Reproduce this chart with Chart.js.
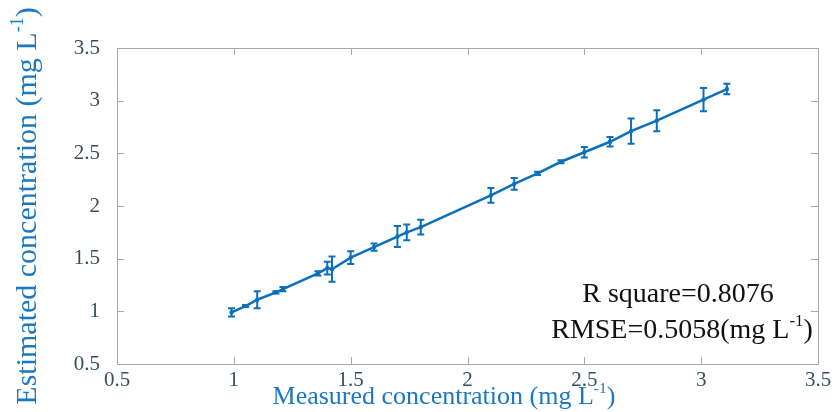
<!DOCTYPE html>
<html>
<head>
<meta charset="utf-8">
<script src="https://cdn.jsdelivr.net/npm/chart.js@4/dist/chart.umd.min.js"></script>
<style>
  html, body { margin: 0; padding: 0; background: #ffffff; }
  #wrap { width: 838px; height: 412px; }
</style>
</head>
<body>
<div id="wrap"><canvas id="c" width="838" height="412"></canvas></div>
<script>
// Measured vs. estimated concentration (mg L-1), with the spread of each estimate
const measured  = [0.99, 1.05, 1.10, 1.18, 1.21, 1.36, 1.40, 1.42, 1.50, 1.60, 1.70, 1.74, 1.80, 2.10, 2.20, 2.30, 2.40, 2.50, 2.61, 2.70, 2.81, 3.01, 3.11];
const estimated = [0.99, 1.05, 1.11, 1.18, 1.21, 1.36, 1.41, 1.40, 1.51, 1.61, 1.71, 1.75, 1.80, 2.10, 2.21, 2.31, 2.42, 2.51, 2.61, 2.71, 2.81, 3.01, 3.11];
const spread    = [0.04, 0.01, 0.08, 0.01, 0.02, 0.02, 0.06, 0.12, 0.06, 0.035, 0.10, 0.075, 0.07, 0.07, 0.055, 0.015, 0.015, 0.05, 0.045, 0.12, 0.10, 0.11, 0.05];

const xTickValues = [0.5, 1, 1.5, 2, 2.5, 3, 3.5];
const yTickValues = [0.5, 1, 1.5, 2, 2.5, 3, 3.5];
const xTickLabels = ['0.5', '1', '1.5', '2', '2.5', '3', '3.5'];
const yTickLabels = ['0.5', '1', '1.5', '2', '2.5', '3', '3.5'];

// Rich text pieces: [normal, superscript, normal]
const xTitleParts = ['Measured concentration (mg L', '-1', ')'];
const yTitleParts = ['Estimated concentration (mg L', '-1', ')'];
const statLines = [
  ['R square=0.8076'],
  ['RMSE=0.5058(mg L', '-1', ')']
];

const SERIES_BLUE = '#0a70bb';
const TITLE_BLUE = '#1c78c0';
const TICK_TEXT = '#34505f';
const BOX_GREY = '#a9a9a9';
const SERIF = '"Liberation Serif", "Times New Roman", serif';

// Draws a text run where every second piece is a superscript
function richWidth(ctx, parts, size) {
  let w = 0;
  parts.forEach((p, i) => {
    const s = i % 2 === 1 ? size * 0.6 : size;
    ctx.font = s + 'px ' + SERIF;
    w += ctx.measureText(p).width;
  });
  return w;
}
function drawRich(ctx, parts, cx, baseline, size, color) {
  const total = richWidth(ctx, parts, size);
  let x = cx - total / 2;
  ctx.fillStyle = color;
  ctx.textAlign = 'left';
  ctx.textBaseline = 'alphabetic';
  parts.forEach((p, i) => {
    const sup = i % 2 === 1;
    const s = sup ? size * 0.6 : size;
    ctx.font = s + 'px ' + SERIF;
    ctx.fillText(p, x, sup ? baseline - size * 0.42 : baseline);
    x += ctx.measureText(p).width;
  });
}

// Frame with inward ticks on all four sides
const framePlugin = {
  id: 'frame',
  beforeDatasetsDraw(chart) {
    const { ctx, chartArea: a, scales: { x, y } } = chart;
    const tl = 7;
    ctx.save();
    ctx.strokeStyle = BOX_GREY;
    ctx.lineWidth = 1;
    ctx.strokeRect(Math.round(a.left) + 0.5, Math.round(a.top) + 0.5,
                   Math.round(a.right - a.left), Math.round(a.bottom - a.top));
    ctx.beginPath();
    xTickValues.forEach(v => {
      const px = Math.round(x.getPixelForValue(v)) + 0.5;
      ctx.moveTo(px, a.bottom); ctx.lineTo(px, a.bottom - tl);
      ctx.moveTo(px, a.top); ctx.lineTo(px, a.top + tl);
    });
    yTickValues.forEach(v => {
      const py = Math.round(y.getPixelForValue(v)) + 0.5;
      ctx.moveTo(a.left, py); ctx.lineTo(a.left + tl, py);
      ctx.moveTo(a.right, py); ctx.lineTo(a.right - tl, py);
    });
    ctx.stroke();
    ctx.restore();
  }
};

// Vertical spread bars with caps at each point
const errorBarPlugin = {
  id: 'errorBars',
  afterDatasetsDraw(chart) {
    const { ctx, scales: { x, y } } = chart;
    const cap = 3.5;
    ctx.save();
    ctx.strokeStyle = SERIES_BLUE;
    ctx.lineWidth = 2;
    ctx.beginPath();
    measured.forEach((m, i) => {
      const px = x.getPixelForValue(m);
      const hi = y.getPixelForValue(estimated[i] + spread[i]);
      const lo = y.getPixelForValue(estimated[i] - spread[i]);
      ctx.moveTo(px, hi); ctx.lineTo(px, lo);
      ctx.moveTo(px - cap, hi); ctx.lineTo(px + cap, hi);
      ctx.moveTo(px - cap, lo); ctx.lineTo(px + cap, lo);
    });
    ctx.stroke();
    ctx.restore();
  }
};

// Axis titles and fit statistics
const textPlugin = {
  id: 'texts',
  afterDraw(chart) {
    const { ctx, chartArea: a } = chart;
    ctx.save();
    drawRich(ctx, xTitleParts, 444, 404, 26, TITLE_BLUE);
    ctx.save();
    ctx.translate(36, (a.top + a.bottom) / 2);
    ctx.rotate(-Math.PI / 2);
    drawRich(ctx, yTitleParts, 0, 0, 30, TITLE_BLUE);
    ctx.restore();
    drawRich(ctx, statLines[0], 678, 302, 28, '#111111');
    drawRich(ctx, statLines[1], 682, 338, 28, '#111111');
    ctx.restore();
  }
};

new Chart(document.getElementById('c'), {
  type: 'scatter',
  data: {
    datasets: [{
      data: measured.map((m, i) => ({ x: m, y: estimated[i] })),
      showLine: true,
      borderColor: SERIES_BLUE,
      backgroundColor: SERIES_BLUE,
      borderWidth: 2.5,
      pointRadius: 2,
      pointStyle: 'rect',
      pointBorderWidth: 1
    }]
  },
  options: {
    responsive: false,
    animation: false,
    devicePixelRatio: 1,
    layout: { padding: { top: 48, right: 20, left: 0, bottom: 0 } },
    plugins: { legend: { display: false }, tooltip: { enabled: false } },
    scales: {
      x: {
        type: 'linear',
        min: 0.5, max: 3.5,
        afterBuildTicks: s => { s.ticks = xTickValues.map(v => ({ value: v })); },
        afterFit: s => { s.height = 48; },
        grid: { display: false, drawTicks: false },
        border: { display: false },
        ticks: {
          padding: 4,
          maxRotation: 0,
          color: TICK_TEXT,
          font: { family: SERIF, size: 21 },
          callback: (v, i) => xTickLabels[i]
        }
      },
      y: {
        type: 'linear',
        min: 0.5, max: 3.5,
        afterBuildTicks: s => { s.ticks = yTickValues.map(v => ({ value: v })); },
        afterFit: s => { s.width = 117; },
        grid: { display: false, drawTicks: false },
        border: { display: false },
        ticks: {
          padding: 17,
          color: TICK_TEXT,
          font: { family: SERIF, size: 21 },
          callback: (v, i) => yTickLabels[i]
        }
      }
    }
  },
  plugins: [framePlugin, errorBarPlugin, textPlugin]
});
</script>
</body>
</html>
